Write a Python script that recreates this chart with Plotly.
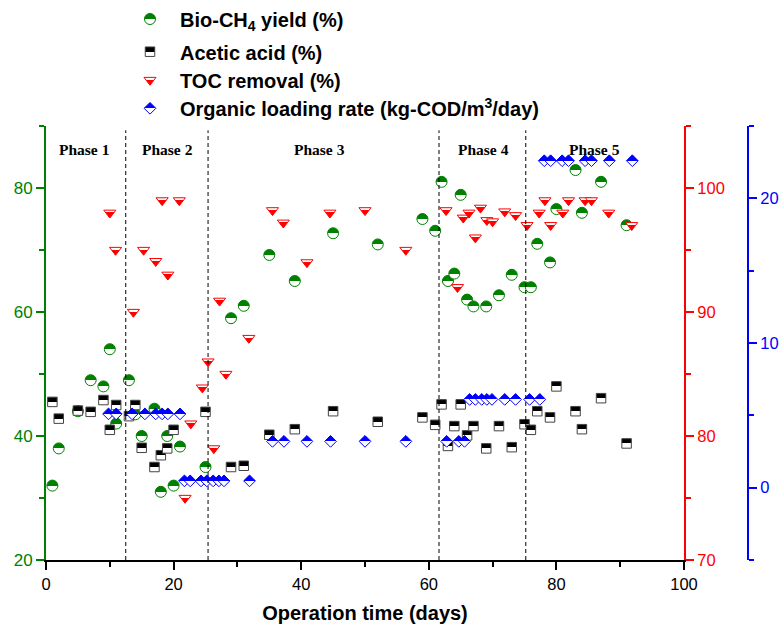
import plotly.graph_objects as go

# ---------------- data ----------------
bio_days = [1, 2, 5, 7, 9, 10, 11, 13, 14, 15, 17, 18, 19, 20, 21, 25, 29, 31, 35, 39,
            45, 52, 59, 61, 62, 63, 64, 65, 66, 67, 69, 71, 73, 75, 76, 77, 79, 80, 83, 84,
            87, 91]
bio_vals = [32, 38, 44, 49, 48, 54, 42, 49, 43.5, 40, 44.4, 31, 40, 32, 38.3, 35, 59, 61, 69.2, 65,
            72.7, 70.9, 75, 73.1, 81, 65, 66.2, 78.9, 62, 60.9, 60.9, 62.7, 66, 64, 64, 71, 68, 76.6, 82.9, 76,
            81, 74]

acetic_days = [1, 2, 5, 7, 9, 10, 11, 13, 14, 15, 17, 18, 19, 20, 25, 29, 31, 35, 39, 45,
               52, 59, 61, 62, 63, 64, 65, 66, 67, 69, 71, 73, 75, 76, 77, 79, 80, 83, 84, 87,
               91]
acetic_vals = [45.5, 42.8, 44.1, 43.9, 45.8, 41, 45, 43.2, 45, 38.1, 35, 36.9, 38, 41, 43.9, 35, 35.2, 40.2, 41.1, 44,
               42.3, 43, 41.8, 45.1, 38.4, 41.6, 45.1, 40.1, 41.6, 38, 41.6, 38.2, 41.9, 41, 44, 43, 48, 44, 41.1, 46.1,
               38.8]

toc_days = [10, 10.9, 13.7, 15.3, 17.2, 18.2, 19.1, 20.9, 21.8, 22.7,
            24.5, 25.4, 26.3, 27.2, 28.2, 31.8, 35.5, 37.2, 40.9, 44.5,
            50, 56.4, 62.7, 64.5, 65.4, 66.3, 67.3, 68.1, 69.1, 70,
            71.9, 73.6, 75.4, 77.3, 78.2, 79.1, 81, 81.9, 84.5, 85.5,
            88.2, 91.8]
toc_vals = [98, 95, 90, 95, 94.1, 99, 93, 99, 75, 81,
            83.9, 86, 79, 90.9, 85, 87.9, 98.2, 97.2, 94, 98,
            98.2, 95, 98.2, 92, 97.6, 98, 96, 98.4, 97.4, 97.3,
            98.1, 97.8, 97, 98, 99, 97, 98, 99, 99, 99,
            98, 97]

olr_days = [9.8, 11.0, 13.5, 15.5, 17.2, 18.2, 19.1, 21.0,
            21.7, 22.6, 24.3, 25.2, 26.2, 27.1, 27.9, 31.9,
            35.5, 37.3, 40.9, 44.6, 50, 56.4, 62.8, 64.7, 65.6,
            66.4, 67.3, 68.3, 69.1, 69.9, 71.9, 73.6, 75.8, 77.4,
            78.1, 79.1, 80.9, 81.9, 84.5, 85.5, 88.3, 91.9]
olr_vals = [5.1, 5.1, 5.1, 5.1, 5.1, 5.1, 5.1, 5.1,
            0.47, 0.47, 0.47, 0.47, 0.47, 0.47, 0.47, 0.47,
            3.2, 3.2, 3.2, 3.2, 3.2, 3.2, 3.2, 3.2, 3.2,
            6.1, 6.1, 6.1, 6.1, 6.1, 6.1, 6.1, 6.1, 6.1,
            22.6, 22.6, 22.6, 22.6, 22.6, 22.6, 22.6, 22.6]

phase_bounds = [12.5, 25.4, 61.6, 75.2]
phase_labels = ["Phase 1", "Phase 2", "Phase 3", "Phase 4", "Phase 5"]
phase_label_x = [6.0, 19.1, 42.9, 68.5, 85.9]

GREEN = "rgb(0,128,0)"
RED = "rgb(255,0,0)"
BLUE = "rgb(0,0,255)"
SANS = "Liberation Sans"
SERIF = "Liberation Serif"

fig = go.Figure()

fig.add_trace(go.Scatter(
    x=bio_days, y=bio_vals, mode="markers", name="Bio-CH<sub>4</sub> yield (%)",
    uid="bio", legend="legend",
    marker=dict(symbol="circle", size=11, color=GREEN,
                gradient=dict(type="vertical", color="white"),
                line=dict(color=GREEN, width=1)),
    yaxis="y"))
fig.add_trace(go.Scatter(
    x=acetic_days, y=acetic_vals, mode="markers", name="Acetic acid (%)",
    uid="acetic", legend="legend2",
    marker=dict(symbol="square", size=9.5, color="black",
                gradient=dict(type="vertical", color="white"),
                line=dict(color="#444", width=1)),
    yaxis="y"))
fig.add_trace(go.Scatter(
    x=toc_days, y=toc_vals, mode="markers", name="TOC removal (%)",
    uid="toc", legend="legend3",
    marker=dict(symbol="triangle-down", size=10.5, color="white",
                gradient=dict(type="vertical", color=RED),
                line=dict(color=RED, width=1)),
    yaxis="y2"))
fig.add_trace(go.Scatter(
    x=olr_days, y=olr_vals, mode="markers",
    name="Organic loading rate (kg-COD/m<sup>3</sup>/day)",
    uid="olr", legend="legend4",
    marker=dict(symbol="diamond", size=9, color=BLUE,
                gradient=dict(type="vertical", color="white"),
                line=dict(color=BLUE, width=1)),
    yaxis="y3"))

L, R, T, B = 46, 35, 126, 69
W, H = 783, 629
paper_w = W - L - R
paper_h = H - T - B
xdom_end = (684 - L) / paper_w

for xb in phase_bounds:
    fig.add_shape(type="line", xref="x", yref="paper", x0=xb, x1=xb, y0=0, y1=0.99,
                  line=dict(color="black", width=1, dash="4px,3px"), layer="above")

for lab, lx in zip(phase_labels, phase_label_x):
    fig.add_annotation(x=lx, y=(560 - 149) / paper_h, xref="x", yref="paper",
                       text="<b>" + lab + "</b>", showarrow=False,
                       font=dict(family=SERIF, size=15.5, color="black"),
                       xanchor="center", yanchor="middle")

legend_common = dict(xanchor="left", yanchor="middle", bgcolor="rgba(0,0,0,0)",
                     xref="container", yref="container",
                     font=dict(family=SANS, size=20, color="black", weight="bold"),
                     itemwidth=50, borderwidth=0)
row_px = [19, 51.7, 80, 108.3]
legs = {}
for i, key in enumerate(["legend", "legend2", "legend3", "legend4"]):
    legs[key] = dict(legend_common, x=120 / W, y=1 - row_px[i] / H)

fig.update_layout(
    width=W, height=H,
    margin=dict(l=L, r=R, t=T, b=B, autoexpand=False),
    paper_bgcolor="white", plot_bgcolor="white",
    showlegend=True,
    font=dict(family=SANS),
    xaxis=dict(domain=[0, xdom_end], range=[0, 100], showgrid=False, zeroline=False,
               automargin=False,
               showline=True, linecolor="black", linewidth=2,
               ticks="outside", ticklen=8, tickwidth=2, tickcolor="black",
               tick0=0, dtick=20,
               minor=dict(dtick=10, ticklen=5, tickwidth=2, tickcolor="black", ticks="outside", showgrid=False),
               tickfont=dict(family=SANS, size=16.5, color="black"),
               title=dict(text="Operation time (days)",
                          font=dict(family=SANS, size=20, color="black", weight="bold"),
                          standoff=14)),
    yaxis=dict(range=[20, 90], showgrid=False, zeroline=False, automargin=False,
               showline=True, linecolor=GREEN, linewidth=2,
               ticks="outside", ticklen=8, tickwidth=2, tickcolor=GREEN,
               tick0=20, dtick=20,
               minor=dict(dtick=10, ticklen=5, tickwidth=2, tickcolor=GREEN, ticks="outside", showgrid=False),
               tickfont=dict(family=SANS, size=17, color=GREEN)),
    yaxis2=dict(range=[70, 105], overlaying="y", side="right", anchor="x",
                showgrid=False, zeroline=False, automargin=False,
                showline=True, linecolor=RED, linewidth=2,
                ticks="outside", ticklen=8, tickwidth=2, tickcolor=RED,
                tick0=70, dtick=10,
                minor=dict(dtick=5, ticklen=5, tickwidth=2, tickcolor=RED, ticks="outside", showgrid=False),
                tickfont=dict(family=SANS, size=16.5, color=RED)),
    yaxis3=dict(range=[-5, 25], overlaying="y", side="right", anchor="free", position=1.0,
                domain=[0, 0.99], automargin=False,
                showgrid=False, zeroline=False,
                showline=True, linecolor=BLUE, linewidth=2,
                ticks="outside", ticklen=8, tickwidth=2, tickcolor=BLUE,
                tick0=0, dtick=10,
                minor=dict(dtick=5, ticklen=5, tickwidth=2, tickcolor=BLUE, ticks="outside", showgrid=False),
                tickfont=dict(family=SANS, size=16.5, color=BLUE)),
    **legs,
)

post = """
var gd = document.getElementById('{plot_id}');
function hardenGradients(){
  var ns = 'http://www.w3.org/2000/svg';
  gd.querySelectorAll('linearGradient').forEach(function(g){
    var stops = Array.prototype.slice.call(g.querySelectorAll('stop'));
    if(stops.length < 2) return;
    stops.sort(function(a,b){return parseFloat(a.getAttribute('offset')) - parseFloat(b.getAttribute('offset'));});
    function col(s){ return s.getAttribute('stop-color') || s.style.stopColor; }
    var c0 = col(stops[0]), c1 = col(stops[stops.length-1]);
    var isToc = /toc$/.test(g.id) || /255,\\s*0,\\s*0/.test(c0);
    var f = isToc ? 0.72 : 0.5;
    while(g.firstChild) g.removeChild(g.firstChild);
    [[0,c0],[f,c0],[f,c1],[1,c1]].forEach(function(s){
      var st = document.createElementNS(ns, 'stop');
      st.setAttribute('offset', (s[0]*100) + '%');
      st.setAttribute('stop-color', s[1]);
      st.setAttribute('stop-opacity', 1);
      g.appendChild(st);
    });
  });
}
hardenGradients();
"""

fig.write_html("out.html", post_script=post)
